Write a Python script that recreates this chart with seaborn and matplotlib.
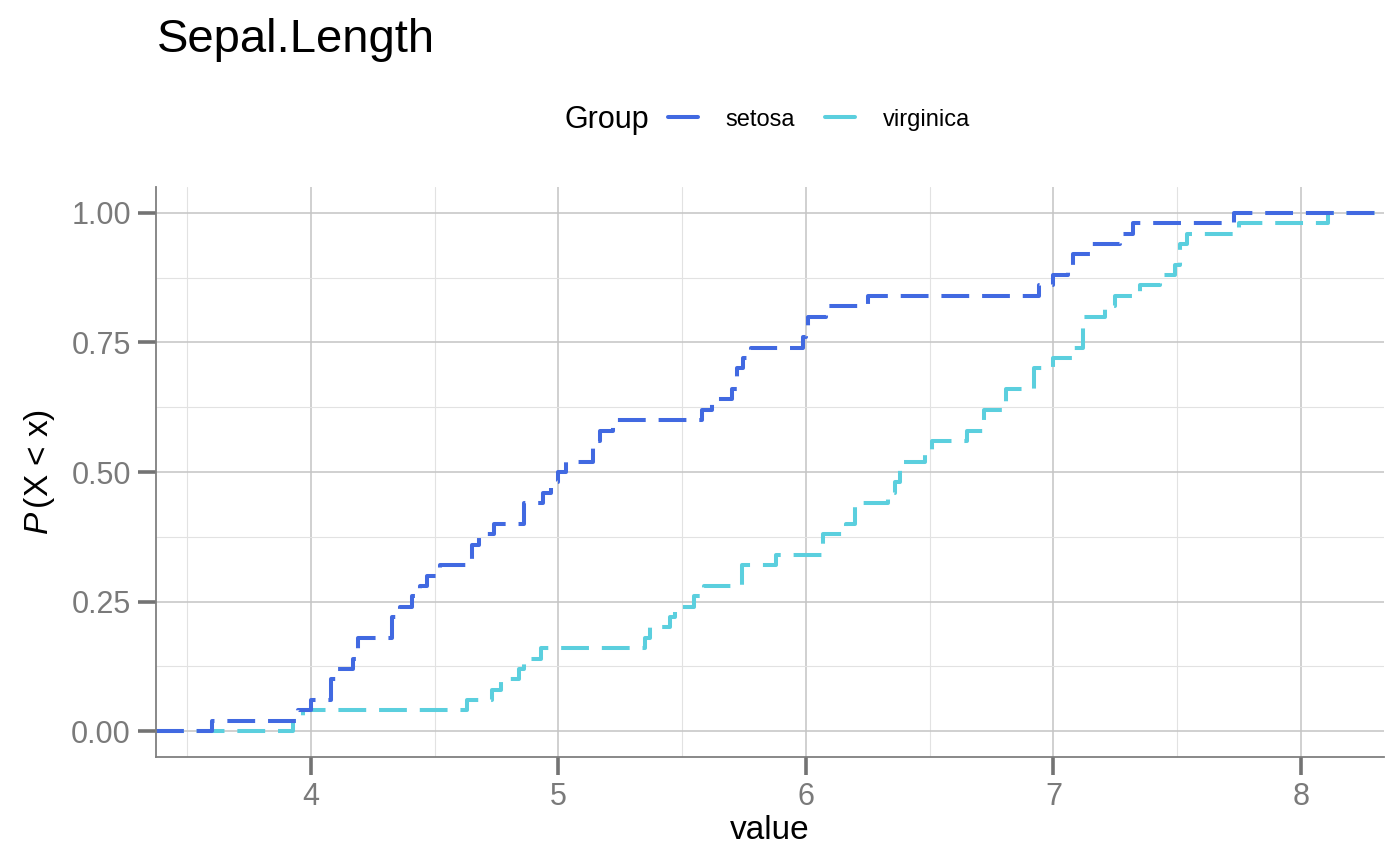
import numpy as np
import pandas as pd
import seaborn as sns
import matplotlib.pyplot as plt
from matplotlib.ticker import MultipleLocator, FormatStrFormatter
from matplotlib.lines import Line2D

# values (50 points each)
setosa = [3.6, 3.95, 4.0, 4.08, 4.08, 4.11, 4.17, 4.19, 4.19, 4.33,
          4.33, 4.36, 4.41, 4.44, 4.47, 4.52, 4.65, 4.65, 4.68, 4.74,
          4.86, 4.86, 4.94, 4.97, 5.0, 5.03, 5.14, 5.14, 5.17, 5.22,
          5.58, 5.62, 5.70, 5.72, 5.72, 5.745, 5.78, 5.99, 6.0, 6.01,
          6.08, 6.25, 6.94, 7.0, 7.06, 7.08, 7.15, 7.27, 7.32, 7.73]
virginica = [3.93, 3.97, 4.63, 4.73, 4.77, 4.84, 4.86, 4.93, 5.35, 5.37,
             5.45, 5.47, 5.55, 5.59, 5.74, 5.74, 5.88, 6.07, 6.07, 6.16,
             6.2, 6.2, 6.33, 6.36, 6.38, 6.38, 6.48, 6.51, 6.65, 6.72,
             6.72, 6.81, 6.81, 6.92, 6.92, 7.0, 7.08, 7.12, 7.12, 7.12,
             7.21, 7.25, 7.35, 7.43, 7.49, 7.51, 7.51, 7.54, 7.75, 8.11]
groups = ["setosa", "virginica"]
colors = {"setosa": "#4169E1", "virginica": "#5BCFDE"}

df = pd.DataFrame({
    "value": setosa + virginica,
    "Group": ["setosa"] * len(setosa) + ["virginica"] * len(virginica),
})

sns.set_theme(style="white")
plt.rcParams["font.family"] = ["Liberation Sans", "DejaVu Sans"]
plt.rcParams["mathtext.fontset"] = "custom"
plt.rcParams["mathtext.it"] = "Liberation Sans:italic"
plt.rcParams["mathtext.rm"] = "Liberation Sans"
plt.rcParams["text.color"] = "black"

fig = plt.figure(figsize=(14, 8.66), dpi=100)
ax = fig.add_axes([0.1114, 0.1259, 0.8772, 0.6581])

sns.ecdfplot(data=df, x="value", hue="Group", hue_order=groups,
             palette=colors, ax=ax, legend=False, linewidth=2.9)

lo, hi = min(df["value"]), max(df["value"])
pad = (hi - lo) * 0.05
xmin, xmax = lo - pad, hi + pad

# ggplot-style padding: curves run from the left edge at 0 to the right edge at 1
for line in ax.get_lines():
    xd = np.asarray(line.get_xdata(), dtype=float)
    yd = np.asarray(line.get_ydata(), dtype=float)
    xd = np.where(np.isfinite(xd), xd, xmin)
    line.set_data(np.append(xd, xmax), np.append(yd, 1.0))
    line.set_dashes((6.9, 3.2))

ax.set_xlim(xmin, xmax)
ax.set_ylim(-0.05, 1.05)

ax.xaxis.set_major_locator(MultipleLocator(1))
ax.xaxis.set_minor_locator(MultipleLocator(0.5))
ax.yaxis.set_major_locator(MultipleLocator(0.25))
ax.yaxis.set_minor_locator(MultipleLocator(0.125))
ax.yaxis.set_major_formatter(FormatStrFormatter("%.2f"))

ax.grid(which="major", color="#c4c4c4", linewidth=1.1)
ax.grid(which="minor", color="#e2e2e2", linewidth=0.8)
ax.set_axisbelow(True)

for s in ["top", "right"]:
    ax.spines[s].set_visible(False)
for s in ["left", "bottom"]:
    ax.spines[s].set_color("#7f7f7f")
    ax.spines[s].set_linewidth(1.3)

ax.tick_params(which="major", left=True, bottom=True, length=13, width=2.6,
               color="#737373", labelsize=22, labelcolor="#7a7a7a", pad=5)
ax.tick_params(which="minor", left=False, bottom=False, length=0)

ax.set_xlabel("value", fontsize=24, color="black", labelpad=2)
ax.set_ylabel(r"$P\,$(X < x)", fontsize=24, color="black", labelpad=10)

fig.text(0.112, 0.94, "Sepal.Length", fontsize=34, ha="left", va="baseline")

# legend across the top: title on the left, keys beside it
fig.text(0.403, 0.862, "Group", fontsize=22, ha="left", va="center")
handles = [Line2D([0], [0], color=colors[g], linewidth=2.9) for g in groups]
fig.legend(handles, groups, loc="center left", bbox_to_anchor=(0.477, 0.862),
           ncol=2, frameon=False, fontsize=17, handlelength=1.3,
           handletextpad=1.15, columnspacing=1.25, borderaxespad=0,
           borderpad=0)

fig.savefig("out.png", dpi=100)
